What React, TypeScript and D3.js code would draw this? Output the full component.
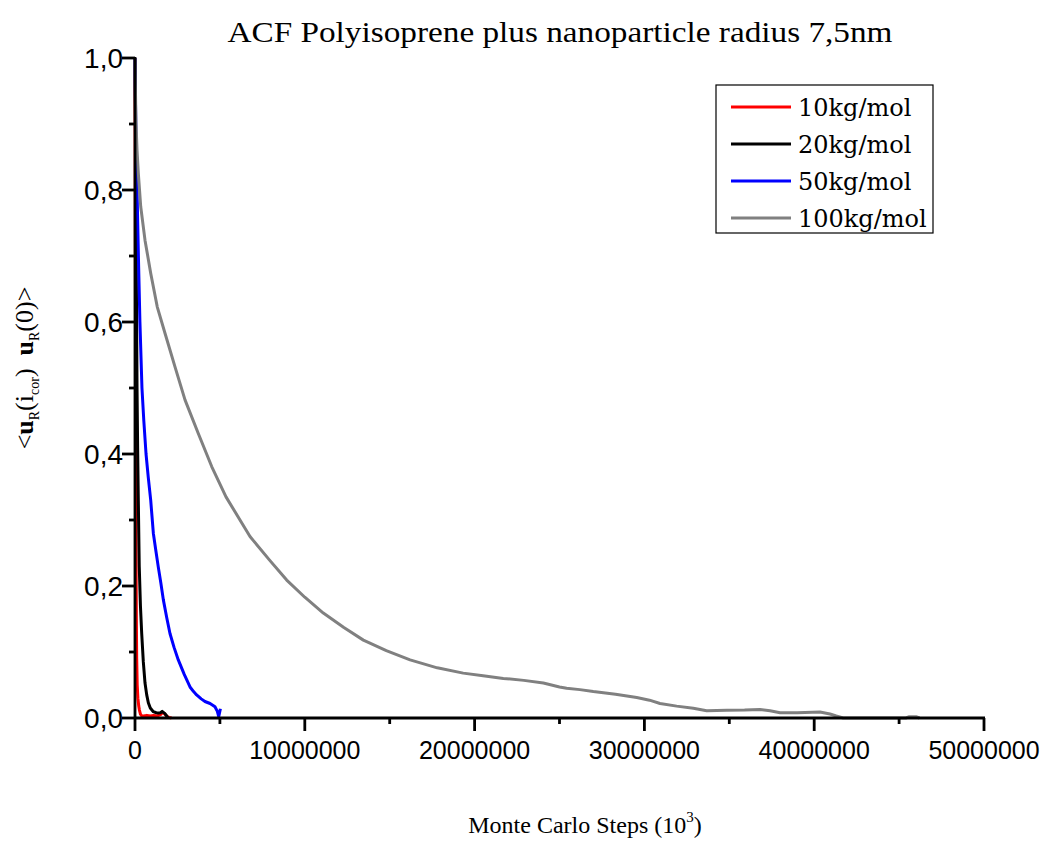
import React from 'react';
import * as d3 from 'd3';

// ---------- data (x in Monte Carlo steps, y = ACF) ----------
const xTicks = [0, 10000000, 20000000, 30000000, 40000000, 50000000];
const xMinorTicks = [5000000, 15000000, 25000000, 35000000, 45000000];
const yTicks = [0, 0.2, 0.4, 0.6, 0.8, 1.0];
const yMinorTicks = [0.1, 0.3, 0.5, 0.7, 0.9];
const yTickLabels = ['0,0', '0,2', '0,4', '0,6', '0,8', '1,0'];

const seriesNames = ['10kg/mol', '20kg/mol', '50kg/mol', '100kg/mol'];
const seriesColors = ['#ff0000', '#000000', '#0000ff', '#808080'];

// steps in millions
const steps10 = [0, 0.015, 0.03, 0.045, 0.06, 0.08, 0.1, 0.13, 0.17, 0.22, 0.26, 0.32, 0.4, 0.5, 0.7, 0.9, 1.1, 1.3, 1.5, 1.62, 1.72, 1.85, 2.0, 2.15];
const acf10 = [1.0, 0.8, 0.6, 0.4, 0.25, 0.15, 0.09, 0.05, 0.03, 0.018, 0.012, 0.006, 0.003, 0.003, 0.004, 0.003, 0.004, 0.003, 0.005, 0.008, 0.007, 0.003, 0.001, 0.0];

const steps20 = [0, 0.03, 0.06, 0.09, 0.12, 0.155, 0.195, 0.25, 0.32, 0.395, 0.49, 0.59, 0.69, 0.785, 0.9, 1.08, 1.25, 1.37, 1.5, 1.6, 1.67, 1.75, 1.87, 1.95];
const acf20 = [1.0, 0.88, 0.75, 0.62, 0.5, 0.41, 0.33, 0.23, 0.17, 0.128, 0.085, 0.053, 0.035, 0.023, 0.015, 0.0096, 0.008, 0.0076, 0.008, 0.01, 0.0086, 0.007, 0.003, 0.0];

const steps50 = [0, 0.03, 0.06, 0.12, 0.2, 0.29, 0.41, 0.52, 0.65, 0.78, 0.925, 1.08, 1.22, 1.37, 1.52, 1.67, 1.87, 2.06, 2.3, 2.55, 2.9, 3.24, 3.45, 3.63, 3.9, 4.12, 4.42, 4.6, 4.71, 4.85, 4.93, 4.98, 5.03];
const acf50 = [1.0, 0.93, 0.88, 0.8, 0.7, 0.6, 0.5, 0.45, 0.4, 0.365, 0.33, 0.28, 0.255, 0.229, 0.205, 0.179, 0.152, 0.128, 0.107, 0.088, 0.066, 0.047, 0.04, 0.035, 0.029, 0.025, 0.022, 0.019, 0.017, 0.01, 0.002, 0.008, 0.014];

const steps100 = [0, 0.02, 0.04, 0.059, 0.12, 0.194, 0.336, 0.589, 0.925, 1.31, 1.767, 2.356, 2.945, 3.728, 4.517, 5.359, 6.773, 7.9, 8.934, 10.0, 11.09, 12.3, 13.45, 14.8, 16.2, 17.8, 19.33, 20.5, 21.69, 22.9, 24.05, 25.0, 25.42, 26.2, 26.99, 28.3, 29.55, 30.3, 30.92, 31.9, 32.88, 33.67, 34.85, 35.9, 36.81, 37.4, 37.99, 39.0, 40.34, 40.93, 41.3, 41.71, 42.3, 43.1, 44.3, 45.4, 45.6, 46.0, 46.2];
const acf100 = [1.0, 0.96, 0.93, 0.902, 0.86, 0.826, 0.775, 0.724, 0.674, 0.623, 0.583, 0.532, 0.482, 0.431, 0.381, 0.335, 0.275, 0.24, 0.209, 0.183, 0.159, 0.137, 0.118, 0.102, 0.088, 0.076, 0.068, 0.064, 0.06, 0.057, 0.053, 0.047, 0.045, 0.043, 0.04, 0.036, 0.031, 0.027, 0.022, 0.018, 0.0147, 0.011, 0.0116, 0.012, 0.013, 0.011, 0.008, 0.008, 0.009, 0.006, 0.003, 0.0, 0.0, 0.0, 0.0, 0.0, 0.002, 0.002, 0.0];

const seriesSteps = [steps10, steps20, steps50, steps100];
const seriesAcf = [acf10, acf20, acf50, acf100];

export default function App() {
  const W = 1042, H = 841;
  const x = d3.scaleLinear().domain([0, 50000000]).range([135, 984]);
  const y = d3.scaleLinear().domain([0, 1]).range([718, 58]);
  const line = d3.line<[number, number]>().x(d => x(d[0] * 1e6)).y(d => y(d[1]));

  const tickFont = '"Liberation Sans", Arial, sans-serif';
  const serif = '"Liberation Serif", "Times New Roman", serif';
  const legendFont = '"DejaVu Serif", serif';
  const axisW = 2.8;

  return (
    <svg width={W} height={H} style={{ position: 'absolute', left: 0, top: 0, background: '#fff' }}>
      <rect width={W} height={H} fill="#fff" />
      <text x={560} y={42} textAnchor="middle" fontFamily={serif} fontSize={30} textLength={665} lengthAdjust="spacingAndGlyphs">
        ACF Polyisoprene plus nanoparticle radius 7,5nm
      </text>

      {/* curves */}
      {seriesSteps.map((s, i) => {
        const pts = s.map((v, j) => [v, seriesAcf[i][j]] as [number, number]);
        return <path key={i} d={line(pts) || ''} fill="none" stroke={seriesColors[i]} strokeWidth={3} strokeLinejoin="round" />;
      })}

      {/* axes */}
      <g stroke="#000" strokeWidth={axisW}>
        <line x1={135} x2={984 + 1} y1={718} y2={718} />
        <line x1={135} x2={135} y1={58 - 1} y2={718} />
        {xTicks.map(t => <line key={'xt' + t} x1={x(t)} x2={x(t)} y1={718} y2={731} />)}
        {xMinorTicks.map(t => <line key={'xm' + t} x1={x(t)} x2={x(t)} y1={718} y2={724} />)}
        {yTicks.map(t => <line key={'yt' + t} x1={122} x2={135} y1={y(t)} y2={y(t)} />)}
        {yMinorTicks.map(t => <line key={'ym' + t} x1={129} x2={135} y1={y(t)} y2={y(t)} />)}
      </g>
      {xTicks.map(t => (
        <text key={'xl' + t} x={x(t)} y={759} textAnchor="middle" fontFamily={tickFont} fontSize={25}>{t}</text>
      ))}
      {yTicks.map((t, i) => (
        <text key={'yl' + t} x={123} y={y(t) + 10} textAnchor="end" fontFamily={tickFont} fontSize={28}>{yTickLabels[i]}</text>
      ))}

      {/* axis titles */}
      <text x={585} y={833} textAnchor="middle" fontFamily={serif} fontSize={24}>
        Monte Carlo Steps (10<tspan dy={-11} fontSize={15}>3</tspan><tspan dy={11}>)</tspan>
      </text>
      <text transform="translate(33,368) rotate(-90)" textAnchor="middle" fontFamily={serif} fontSize={26}>
        {'<'}<tspan fontWeight="bold">u</tspan><tspan dy={6} fontSize={14}>R</tspan><tspan dy={-6}>(i</tspan><tspan dy={6} fontSize={14}>cor</tspan><tspan dy={-6}>{')\u00a0\u00a0'}</tspan><tspan fontWeight="bold">u</tspan><tspan dy={6} fontSize={14}>R</tspan><tspan dy={-6}>(0)&gt;</tspan>
      </text>

      {/* legend */}
      <rect x={716} y={85} width={217} height={148} fill="#fff" stroke="#000" strokeWidth={1.2} />
      {seriesNames.map((n, i) => (
        <g key={n}>
          <line x1={731} x2={791} y1={107 + i * 37} y2={107 + i * 37} stroke={seriesColors[i]} strokeWidth={3} />
          <text x={798} y={116 + i * 37} fontFamily={legendFont} fontSize={24}>{n}</text>
        </g>
      ))}
    </svg>
  );
}
